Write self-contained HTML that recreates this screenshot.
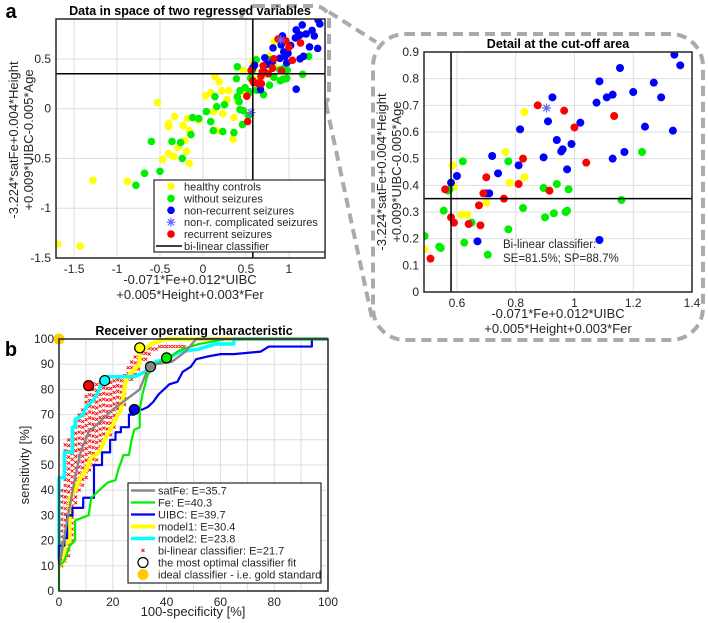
<!DOCTYPE html>
<html><head><meta charset="utf-8"><style>
html,body{margin:0;background:#fff;overflow:hidden;width:708px;height:623px;}
svg{display:block;font-family:"Liberation Sans","DejaVu Sans",sans-serif;}
</style></head><body>
<svg id="fig" width="708" height="623" viewBox="0 0 708 623"></svg>
<script>
// ---------- DATA ----------
const blueX=[1.34,1.36,1.155,1.085,1.27,1.2,1.13,1.11,1.075,1.295,0.925,1.24,1.335,1.02,0.91,0.815,0.94,0.96,0.955,0.99,1.17,1.13,0.895,0.975,0.72,0.81,0.74,0.6,0.58,0.71,0.7,0.67,1.085];
const blueY=[0.89,0.85,0.84,0.79,0.785,0.75,0.74,0.73,0.71,0.73,0.73,0.62,0.605,0.635,0.64,0.61,0.57,0.535,0.527,0.555,0.525,0.5,0.505,0.46,0.51,0.475,0.445,0.435,0.41,0.37,0.37,0.19,0.195];
const redX=[0.875,0.965,1.135,1.0,0.825,1.04,0.7,0.81,0.915,0.69,0.56,0.76,0.675,0.58,0.59,0.64,0.68,0.51,0.52];
const redY=[0.7,0.68,0.66,0.617,0.5,0.485,0.43,0.405,0.38,0.37,0.385,0.35,0.325,0.28,0.26,0.255,0.25,0.125,-0.13];
const yelX=[0.83,0.765,0.585,0.59,0.78,0.83,0.7,0.615,0.635,0.49,-1.69,-1.43,-1.28,-0.88,-0.47,-0.53,-0.40,-0.40,-0.33,-0.23,-0.18,-0.21,-0.29,-0.40,-0.34,-0.16,-0.19,-0.16,-0.05,0.03,0.09,0.14,0.19,0.22,0.30,0.28,0.12,0.23,0.16,0.36,0.35,0.40,0.47];
const yelY=[0.675,0.525,0.475,0.395,0.41,0.43,0.335,0.29,0.29,0.16,-1.36,-1.38,-0.72,-0.73,-0.51,0.06,-0.15,-0.18,-0.08,-0.17,-0.1,-0.32,-0.39,-0.45,-0.48,-0.55,-0.43,-0.22,-0.12,0.13,0.16,0.32,0.27,0.18,0.18,0.09,-0.03,-0.05,-0.22,-0.09,-0.31,0.08,0.38];
const grnX=[0.62,0.775,0.57,0.575,0.895,0.94,0.98,1.16,1.23,0.825,0.555,0.9,0.93,0.97,0.975,0.65,0.775,0.49,0.54,0.545,0.625,0.705,-0.78,-0.68,-0.50,-0.60,-0.36,-0.26,-0.24,-0.14,-0.12,-0.05,0.04,0.14,0.16,0.09,0.12,0.23,0.36,0.25,0.40,0.43,0.47,0.46,0.53,0.40,0.39,0.43,0.42];
const grnY=[0.49,0.49,0.38,0.385,0.39,0.405,0.385,0.345,0.525,0.315,0.305,0.28,0.295,0.3,0.305,0.26,0.235,0.21,0.17,0.165,0.185,0.14,-0.77,-0.65,-0.63,-0.33,-0.33,-0.34,-0.5,-0.26,-0.09,-0.1,-0.03,0.12,0.02,-0.13,-0.22,-0.23,-0.24,0.04,0.12,-0.01,-0.02,-0.16,-0.07,0.42,0.30,0.18,0.07];
const starX=[0.905,0.56];
const starY=[0.69,-0.04];
const cutX=0.58, cutY=0.35;
const satFeX=[0,1,3,6,8,11,14,20,25,30,33,36,42,47,51,60,100];
const satFeY=[10,15,28,45,55,63,66,72,76,80,88,90,91,95,100,100,100];
const feX=[0,0,2,4,6,6,11,12,15,18,21,22,24,26,27,28,30,30,31,32,33,35,36,40,44,46,52,57,62,100];
const feY=[0,10,12,18,20,28,30,37,40,43,44,48,54,54,60,64,65,72,78,82,86,88,90,92,95,96,98,99,100,100];
const uibcX=[0,0,2,2,3,3,5,5,9,9,13,13,16,16,19,19,21,21,23,23,26,26,28,28,31,33,35,37,39,41,44,46,49,51,55,60,65,75,78,94,94,100];
const uibcY=[10,18,18,21,21,30,30,33,33,37,37,50,50,55,55,60,60,63,63,65,65,70,70,72,72,73,75,78,80,82,83,87,89,92,93,94,94,95,97,97,100,100];
const m1X=[0,2,2,4,4,6,8,10,12,15,17,19,21,23,24,25,27,30,30,32,34,40,100];
const m1Y=[10,12,18,20,37,40,45,48,53,55,60,64,68,72,78,84,87,90,95,96,98,100,100];
const m2X=[0,0,2,2,5,5,6,6,9,10,13,15,16,17,28,32,33,36,40,45,52,58,65,65,100];
const m2Y=[12,45,45,55,55,65,65,68,70,73,76,80,83,85,85,87,88,91,92,95,96,98,98,100,100];
const biColX=[1,2.3,3.6,4.9,6.2,7.5,8.8,10.1,11.4,12.7,14,15.3,16.6,17.9,19.2,20.5,21.8,23.1,24.4,25.7,27,28.3,29.6,30.9,32.2,33.5,34.8,36.1,37.4,38.7,40,41.3,42.6,43.9,45.2,46.5];
const biLo=[10,12,14,20,35,40,42,45,48,50,52,55,60,62,62,65,70,72,74,84,84,86,88,92,92,94,96,96,97,97,97,97,97,97,97,97];
const biHi=[40,58,62,64,68,70,72,78,82,84,84,84,84,84,84,84,84,84,86,90,92,94,95,96,96,97,98,98,99,99,99,99,99,99,99,99];
const optX=[11,17,30,34,40,28];
const optY=[81.5,83.5,96.5,89,92.5,72];
const optC=['#f00','#0ff','#ff0','#888','#0e0','#00f'];

// ---------- HELPERS ----------
const NS='http://www.w3.org/2000/svg';
const svg=document.getElementById('fig');
function mk(tag,attrs,parent){const e=document.createElementNS(NS,tag);for(const k in attrs)e.setAttribute(k,attrs[k]);(parent||svg).appendChild(e);return e;}
function txt(s,x,y,o,parent){const e=mk('text',Object.assign({x:x,y:y,'font-size':12,fill:'#262626','text-anchor':'middle'},o||{}),parent);e.textContent=s;return e;}
function scale(d0,d1,p0,p1){return v=>p0+(v-d0)*(p1-p0)/(d1-d0);}
function starPath(x,y,r){return `M${x-r},${y}H${x+r}M${x},${y-r}V${y+r}M${x-r*.7},${y-r*.7}L${x+r*.7},${y+r*.7}M${x-r*.7},${y+r*.7}L${x+r*.7},${y-r*.7}`;}

// ---------- connectors & dashed boxes ----------
const dash={fill:'none',stroke:'#aaa','stroke-width':4,'stroke-dasharray':'10,6'};
let e=mk('rect',Object.assign({x:241,y:6,width:88,height:102,rx:14},dash));

e=mk('rect',Object.assign({x:373,y:34,width:330,height:306,rx:32},dash));

e=mk('line',Object.assign({x1:329,y1:12,x2:376,y2:42},dash));

e=mk('line',Object.assign({x1:326,y1:104,x2:372,y2:318},dash));


// ---------- scatter panel ----------
function scatterPanel(name,L,R,T,B,xd,yd,xt,yt,xtl,ytl,dotR){
  const g=mk('g',{});
  
  const sx=scale(xd[0],xd[1],L,R), sy=scale(yd[0],yd[1],B,T);
  mk('rect',{x:L,y:T,width:R-L,height:B-T,fill:'#fff'},g);
  xt.forEach((v,i)=>{mk('line',{x1:sx(v),x2:sx(v),y1:T,y2:B,stroke:'#ddd'},g);txt(xtl[i],sx(v),B+15,{},g);});
  yt.forEach((v,i)=>{mk('line',{x1:L,x2:R,y1:sy(v),y2:sy(v),stroke:'#ddd'},g);txt(ytl[i],L-5,sy(v)+4,{'text-anchor':'end'},g);});
  const clip='c'+name; const cp=mk('clipPath',{id:clip},g); mk('rect',{x:L,y:T,width:R-L,height:B-T},cp);
  const pg=mk('g',{'clip-path':'url(#'+clip+')'},g);
  function dots(X,Y,c,n){X.forEach((x,i)=>{const d=mk('circle',{cx:sx(x),cy:sy(Y[i]),r:dotR,fill:c},pg);
    });}
  dots(yelX,yelY,'#ff0','healthy-control-point');
  dots(grnX,grnY,'#0e0','without-seizures-point');
  dots(blueX,blueY,'#00f','non-recurrent-point');
  dots(redX,redY,'#f00','recurrent-point');
  starX.forEach((x,i)=>{const s=mk('path',{d:starPath(sx(x),sy(starY[i]),4.5),stroke:'#66f','stroke-width':1.2,fill:'none'},pg);
    });
  let l=mk('line',{x1:sx(cutX),x2:sx(cutX),y1:T,y2:B,stroke:'#000','stroke-width':1.5},pg);
  
  l=mk('line',{x1:L,x2:R,y1:sy(cutY),y2:sy(cutY),stroke:'#000','stroke-width':1.5},pg);
  
  mk('rect',{x:L,y:T,width:R-L,height:B-T,fill:'none',stroke:'#262626','stroke-width':1.5},g);
  return g;
}
scatterPanel('scatter-panel-a',56,325,19,258,[-1.71,1.42],[-1.5,0.9],[-1.5,-1,-0.5,0,0.5,1],[-1.5,-1,-0.5,0,0.5],['-1.5','-1','-0.5','0','0.5','1'],['-1.5','-1','-0.5','0','0.5'],3.8);
txt('Data in space of two regressed variables',190,15,{'font-weight':'bold','font-size':12.5,fill:'#000'});
txt('-0.071*Fe+0.012*UIBC',190,284,{'font-size':13});
txt('+0.005*Height+0.003*Fer',190,299,{'font-size':13});
txt('-3.224*satFe+0.004*Height',18,140,{'font-size':13,transform:'rotate(-90 18 140)'});
txt('+0.009*UIBC-0.005*Age',33,140,{'font-size':13,transform:'rotate(-90 33 140)'});
txt('a',11,18,{'font-size':20,'font-weight':'bold',fill:'#000'});

// legend a
const lg=mk('g',{});
mk('rect',{x:154,y:180,width:171,height:72,fill:'#fff',stroke:'#262626','stroke-width':1.2},lg);
const la=[['healthy controls','#ff0','c'],['without seizures','#0e0','c'],['non-recurrent seizures','#00f','c'],['non-r. complicated seizures','#66f','s'],['recurrent seizures','#f00','c'],['bi-linear classifier','#000','l']];
la.forEach((r,i)=>{const y=186.5+i*11.9;
  if(r[2]=='c')mk('circle',{cx:171,cy:y,r:3.8,fill:r[1]},lg);
  else if(r[2]=='s')mk('path',{d:starPath(171,y,4.5),stroke:r[1],'stroke-width':1.2},lg);
  else mk('line',{x1:156,x2:182,y1:y,y2:y,stroke:'#000','stroke-width':1.5},lg);
  txt(r[0],184,y+4,{'text-anchor':'start','font-size':11},lg);});

// detail panel
scatterPanel('scatter-panel-detail',424,692,52,292,[0.488,1.4],[0,0.9],[0.6,0.8,1,1.2,1.4],[0,0.1,0.2,0.3,0.4,0.5,0.6,0.7,0.8,0.9],['0.6','0.8','1','1.2','1.4'],['0','0.1','0.2','0.3','0.4','0.5','0.6','0.7','0.8','0.9'],4);
txt('Detail at the cut-off area',558,48,{'font-weight':'bold','font-size':12.5,fill:'#000'});
txt('Bi-linear classifier:',503,248,{'text-anchor':'start','font-size':11.5});
txt('SE=81.5%; SP=88.7%',503,262,{'text-anchor':'start','font-size':11.5});
txt('-0.071*Fe+0.012*UIBC',558,318,{'font-size':13});
txt('+0.005*Height+0.003*Fer',558,333,{'font-size':13});
txt('-3.224*satFe+0.004*Height',386,172,{'font-size':13,transform:'rotate(-90 386 172)'});
txt('+0.009*UIBC-0.005*Age',401,172,{'font-size':13,transform:'rotate(-90 401 172)'});

// ---------- ROC panel ----------
(function(){
  const L=59,R=328,T=339,B=591;
  const g=mk('g',{});
  const sx=scale(0,100,L,R), sy=scale(0,100,B,T);
  for(let v=0;v<=100;v+=10){mk('line',{x1:sx(v),x2:sx(v),y1:T,y2:B,stroke:'#ddd'},g);mk('line',{x1:L,x2:R,y1:sy(v),y2:sy(v),stroke:'#ddd'},g);
    txt(String(v),L-5,sy(v)+4,{'text-anchor':'end'},g);}
  for(let v=0;v<=100;v+=20)txt(String(v),sx(v),B+15,{},g);
  let d='';
  biColX.forEach((x,i)=>{for(let y=biLo[i];y<=biHi[i];y+=2.3){const px=sx(x),py=sy(y);d+=`M${px-1.5},${py-1.5}L${px+1.5},${py+1.5}M${px-1.5},${py+1.5}L${px+1.5},${py-1.5}`;}});
  const bx=mk('path',{d:d,stroke:'#f00','stroke-width':0.9,fill:'none'},g);
  
  function line(X,Y,c,w,n){const p=mk('polyline',{points:X.map((x,i)=>sx(x)+','+sy(Y[i])).join(' '),fill:'none',stroke:c,'stroke-width':w,'stroke-linejoin':'round'},g);
    }
  line(m1X,m1Y,'#ff0',4,'model1-curve');
  line(m2X,m2Y,'#0ff',3.5,'model2-curve');
  line(uibcX,uibcY,'#00e',2.2,'uibc-curve');
  line(feX,feY,'#0e0',2.2,'fe-curve');
  line(satFeX,satFeY,'#888',2.4,'satfe-curve');
  optX.forEach((x,i)=>{const c=mk('circle',{cx:sx(x),cy:sy(optY[i]),r:5,fill:optC[i],stroke:'#000','stroke-width':1.2},g);
    });
  const gold=mk('circle',{cx:sx(0),cy:sy(100),r:5.5,fill:'#fc0'},g);
  
  mk('rect',{x:L,y:T,width:R-L,height:B-T,fill:'none',stroke:'#262626','stroke-width':1.5},g);
  txt('Receiver operating characteristic',194,335,{'font-weight':'bold','font-size':12.5,fill:'#000'});
  txt('100-specificity [%]',193,616,{'font-size':13});
  txt('sensitivity [%]',29,465,{'font-size':13,transform:'rotate(-90 29 465)'});
  txt('b',11,356,{'font-size':20,'font-weight':'bold',fill:'#000'});
  const lb=mk('g',{});
  mk('rect',{x:128,y:483,width:193,height:100,fill:'#fff',stroke:'#262626','stroke-width':1.2},lb);
  const rows=[['satFe: E=35.7','#888','l',2.4],['Fe: E=40.3','#0e0','l',2.2],['UIBC: E=39.7','#00e','l',2.2],['model1: E=30.4','#ff0','l',4],['model2: E=23.8','#0ff','l',3.5],['bi-linear classifier: E=21.7','#f00','x'],['the most optimal classifier fit','#fff','o'],['ideal classifier - i.e. gold standard','#fc0','g']];
  rows.forEach((r,i)=>{const y=490.5+i*12;
    if(r[2]=='l')mk('line',{x1:131,x2:155,y1:y,y2:y,stroke:r[1],'stroke-width':r[3]},lb);
    else if(r[2]=='x')mk('path',{d:`M${141.5},${y-1.5}L${144.5},${y+1.5}M${141.5},${y+1.5}L${144.5},${y-1.5}`,stroke:'#f00','stroke-width':1},lb);
    else if(r[2]=='o')mk('circle',{cx:143,cy:y,r:5,fill:'#fff',stroke:'#000','stroke-width':1.2},lb);
    else mk('circle',{cx:143,cy:y,r:5.5,fill:'#fc0'},lb);
    txt(r[0],158,y+4,{'text-anchor':'start','font-size':11},lb);});
})();
</script>
</body></html>
